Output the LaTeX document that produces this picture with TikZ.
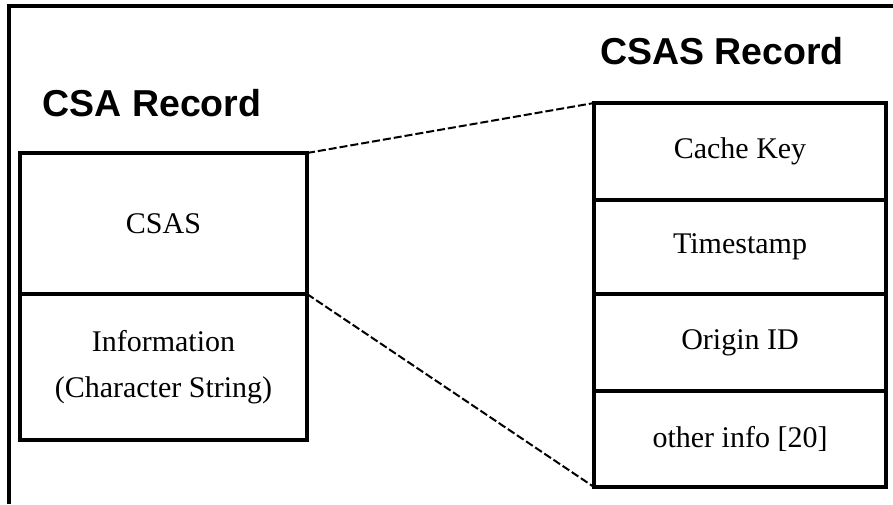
\documentclass[tikz,border=0pt]{standalone}
\usepackage{fontspec}
\setmainfont{Liberation Serif}
\newfontfamily\titlefont{Liberation Sans}
\begin{document}
\begin{tikzpicture}[x=1pt,y=-1pt,
  cell/.style={draw, line width=3.4pt, rectangle, inner sep=0pt, outer sep=0pt,
    align=center, font=\fontsize{30}{46}\selectfont},
  leftcell/.style={cell, minimum width=287pt},
  rightcell/.style={cell, minimum width=292pt},
  heading/.style={font=\titlefont\bfseries\fontsize{37.5}{40}\selectfont, inner sep=0pt},
  link/.style={line width=2pt, dash pattern=on 8pt off 3pt}]
  \useasboundingbox (0,0) rectangle (893,504);
  % outer frame (only its top and left edges fall inside the page)
  \draw[line width=3.4pt] (9,504) -- (9,6) -- (893,6);

  % headings
  \node[heading] (csatitle) at (152,103) {CSA Record};
  \node[heading] (csastitle) at (722,51) {CSAS Record};

  % CSA record
  \node[leftcell, minimum height=141pt] (csas) at (163.5,223.5) {CSAS};
  \node[leftcell, minimum height=146pt] (info) at (163.5,367) {Information\\(Character String)};

  % CSAS record
  \node[rightcell, minimum height=97pt] (key) at (740,151.5) {Cache Key};
  \node[rightcell, minimum height=94pt] (stamp) at (740,247) {Timestamp};
  \node[rightcell, minimum height=97pt] (origin) at (740,342.5) {Origin ID};
  \node[rightcell, minimum height=96pt] (other) at (740,439) {other info [20]};

  % expansion lines
  \draw[link] (csas.north east) -- (key.north west);
  \draw[link] (csas.south east) -- (other.south west);
\end{tikzpicture}
\end{document}
